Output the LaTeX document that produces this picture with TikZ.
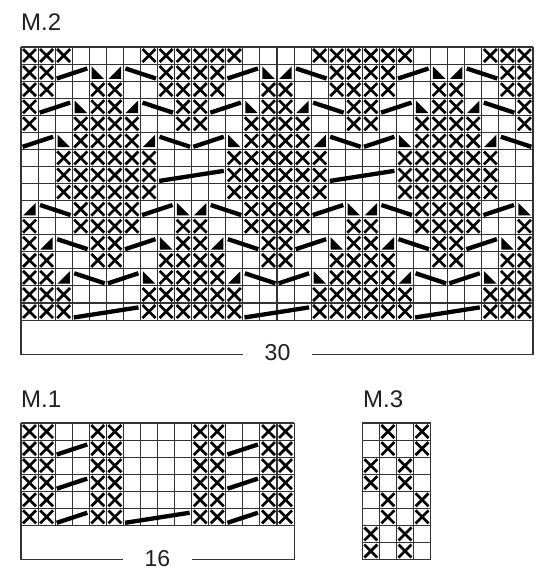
\documentclass[tikz,border=0pt]{standalone}
\usepackage{fontspec}
\setmainfont{Liberation Sans}
\newcommand\KCs{17.0667}
% grid: ox oy cols rows
\newcommand\KCgrid[4]{%
  \foreach \i in {0,...,#3} \draw[gridl] ({#1+\i*\KCs},#2) -- ++(0,{#4*\KCs});
  \foreach \j in {0,...,#4} \draw[gridl] (#1,{#2+\j*\KCs}) -- ++({#3*\KCs},0);}
% cross: ox oy col row
\newcommand\KCx[4]{%
  \draw[xm] ({#1+(#3+0.12)*\KCs},{#2+(#4+0.12)*\KCs}) -- ++({0.76*\KCs},{0.76*\KCs})
            ({#1+(#3+0.88)*\KCs},{#2+(#4+0.12)*\KCs}) -- ++({-0.76*\KCs},{0.76*\KCs});}
% cable rising / descending: ox oy col row width
\newcommand\KCup[5]{%
  \draw[cab] ({#1+(#3)*\KCs+1.6},{#2+(#4+1)*\KCs-2.6}) -- ({#1+(#3+#5)*\KCs-2},{#2+(#4)*\KCs+4.4});}
\newcommand\KCdn[5]{%
  \draw[cab] ({#1+(#3)*\KCs+2},{#2+(#4)*\KCs+4.4}) -- ({#1+(#3+#5)*\KCs-1.6},{#2+(#4+1)*\KCs-2.6});}
% triangles
\newcommand\KCtl[4]{%
  \fill ({#1+(#3+0.14)*\KCs},{#2+(#4+0.14)*\KCs}) -- ({#1+(#3+0.14)*\KCs},{#2+(#4+0.87)*\KCs}) -- ({#1+(#3+0.87)*\KCs},{#2+(#4+0.87)*\KCs}) -- cycle;}
\newcommand\KCtr[4]{%
  \fill ({#1+(#3+0.86)*\KCs},{#2+(#4+0.14)*\KCs}) -- ({#1+(#3+0.86)*\KCs},{#2+(#4+0.87)*\KCs}) -- ({#1+(#3+0.13)*\KCs},{#2+(#4+0.87)*\KCs}) -- cycle;}
\begin{document}
\begin{tikzpicture}[x=1pt,y=-1pt,
  gridl/.style={draw=black!80,line width=1.1pt},
  xm/.style={draw=black,line width=2.7pt},
  cab/.style={draw=black,line width=4.3pt},
  boxl/.style={draw=black!80,line width=1.1pt},
  lab/.style={font=\fontsize{24}{28}\selectfont,inner sep=0pt,text=black!88},
  num/.style={font=\fontsize{23}{27}\selectfont,inner ysep=0pt,inner xsep=22pt,fill=white,text=black!88}]
\useasboundingbox (0,0) rectangle (550,575);
\fill[white] (0,0) rectangle (550,575);

% ---------------- M.2 ----------------
\node[lab,anchor=base west] (m2) at (21,31) {M.2};
\KCgrid{21}{47}{30}{16}
\coordinate (b2nw) at (21,320.07);
\coordinate (b2sw) at (21,354.2);
\coordinate (b2ne) at (533,320.07);
\coordinate (b2se) at (533,354.2);
\node[num] (n30) at (277.5,353) {30};
\draw[boxl] (b2nw) -- (b2sw) -- (b2sw -| n30.west);
\draw[boxl] (b2se -| n30.east) -- (b2se) -- (b2ne);
\foreach \r/\cl in {0/{0,1,2,7,8,9},1/{0,1,8,9},2/{0,1,4,5,8,9},3/{0,4,5,9},
  4/{0,3,4,5,6,9},5/{3,4,5,6},6/{2,3,4,5,6,7},7/{2,3,4,5,6,7},8/{2,3,4,5,6,7},
  9/{3,4,5,6},10/{0,3,4,5,6,9},11/{0,4,5,9},12/{0,1,4,5,8,9},13/{0,1,8,9},
  14/{0,1,2,7,8,9},15/{0,1,2,7,8,9}}{
  \foreach \p in {0,10,20}{\foreach \c in \cl {\KCx{21}{47}{\p+\c}{\r}}}}
\foreach \p in {0,10,20}{
  \KCup{21}{47}{\p+2}{1}{2} \KCdn{21}{47}{\p+6}{1}{2}
  \KCup{21}{47}{\p+1}{3}{2} \KCdn{21}{47}{\p+7}{3}{2}
  \KCup{21}{47}{\p+0}{5}{2} \KCdn{21}{47}{\p+8}{5}{2}
  \KCdn{21}{47}{\p+1}{9}{2} \KCup{21}{47}{\p+7}{9}{2}
  \KCdn{21}{47}{\p+2}{11}{2} \KCup{21}{47}{\p+6}{11}{2}
  \KCdn{21}{47}{\p+3}{13}{2} \KCup{21}{47}{\p+5}{13}{2}
  \KCup{21}{47}{\p+3}{15}{4}
  \KCtl{21}{47}{\p+4}{1} \KCtr{21}{47}{\p+5}{1}
  \KCtl{21}{47}{\p+3}{3} \KCtr{21}{47}{\p+6}{3}
  \KCtl{21}{47}{\p+2}{5} \KCtr{21}{47}{\p+7}{5}
  \KCtr{21}{47}{\p+0}{9} \KCtl{21}{47}{\p+9}{9}
  \KCtr{21}{47}{\p+1}{11} \KCtl{21}{47}{\p+8}{11}
  \KCtr{21}{47}{\p+2}{13} \KCtl{21}{47}{\p+7}{13}
}
\foreach \p in {0,10}{\KCup{21}{47}{\p+8}{7}{4}}

% ---------------- M.1 ----------------
\node[lab,anchor=base west] (m1) at (21,407) {M.1};
\KCgrid{21}{423}{16}{6}
\coordinate (b1nw) at (21,525.4);
\coordinate (b1sw) at (21,559.5);
\coordinate (b1ne) at (294.07,525.4);
\coordinate (b1se) at (294.07,559.5);
\node[num] (n16) at (157.5,558.5) {16};
\draw[boxl] (b1nw) -- (b1sw) -- (b1sw -| n16.west);
\draw[boxl] (b1se -| n16.east) -- (b1se) -- (b1ne);
\foreach \r in {0,...,5}{\foreach \c in {0,1,4,5,10,11,14,15}{\KCx{21}{423}{\c}{\r}}}
\foreach \r in {1,3,5}{\KCup{21}{423}{2}{\r}{2} \KCup{21}{423}{12}{\r}{2}}
\KCup{21}{423}{6}{5}{4}

% ---------------- M.3 ----------------
\node[lab,anchor=base west] (m3) at (363,407) {M.3};
\KCgrid{362.3}{423}{4}{8}
\foreach \r in {0,1,4,5}{\foreach \c in {1,3}{\KCx{362.3}{423}{\c}{\r}}}
\foreach \r in {2,3,6,7}{\foreach \c in {0,2}{\KCx{362.3}{423}{\c}{\r}}}
\end{tikzpicture}
\end{document}
